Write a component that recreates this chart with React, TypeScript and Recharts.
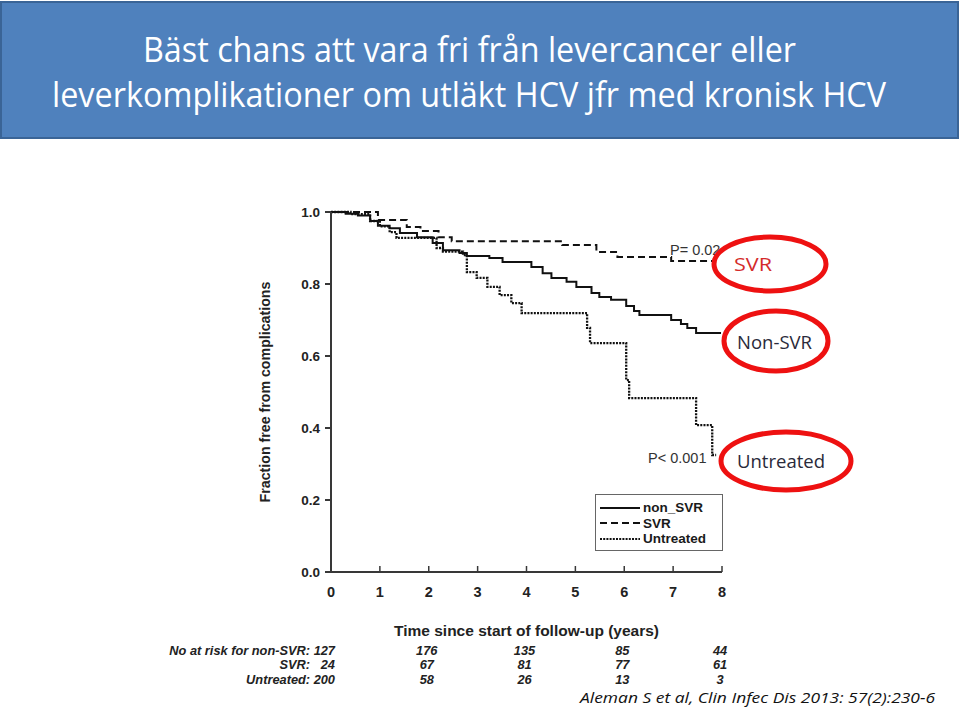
import React from 'react'
import { LineChart, Line, XAxis, YAxis } from 'recharts'

// Kaplan-Meier steps (years, fraction free)
const nonSvrTime = [0, 0.3, 0.55, 0.8, 0.96, 1.2, 1.41, 1.76, 2.08, 2.29, 2.63, 2.78, 3.24, 3.51, 4.1, 4.33, 4.51, 4.82, 5.02, 5.33, 5.49, 5.73, 6.04, 6.2, 6.31, 6.96, 7.16, 7.29, 7.47, 7.98]
const nonSvrFree = [1.0, 0.995, 0.99, 0.975, 0.962, 0.955, 0.942, 0.93, 0.914, 0.894, 0.886, 0.878, 0.872, 0.861, 0.847, 0.83, 0.817, 0.806, 0.792, 0.775, 0.764, 0.756, 0.739, 0.725, 0.714, 0.7, 0.689, 0.678, 0.664, 0.664]

const svrTime = [0, 0.96, 1.55, 1.83, 2.2, 2.47, 4.73, 5.43, 5.86, 6.96, 7.9]
const svrFree = [1.0, 0.978, 0.958, 0.947, 0.93, 0.919, 0.908, 0.889, 0.875, 0.864, 0.864]

const untreatedTime = [0, 0.4, 0.8, 1.0, 1.2, 1.34, 2.16, 2.29, 2.7, 2.78, 2.98, 3.2, 3.45, 3.69, 3.9, 5.24, 5.3, 6.04, 6.1, 7.47, 7.8, 7.88]
const untreatedFree = [1.0, 0.994, 0.975, 0.96, 0.944, 0.928, 0.9, 0.89, 0.88, 0.833, 0.817, 0.792, 0.769, 0.747, 0.719, 0.678, 0.636, 0.533, 0.483, 0.408, 0.325, 0.325]

const xTicks = [0, 1, 2, 3, 4, 5, 6, 7, 8]
const yTicks = [0, 0.2, 0.4, 0.6, 0.8, 1.0]

// numbers at risk
const riskYears = [2, 4, 6, 8]
const riskLabels = ['No at risk for non-SVR: 127', 'SVR:   24', 'Untreated: 200']
const riskNonSvr = [176, 135, 85, 44]
const riskSvr = [67, 81, 77, 61]
const riskUntreated = [58, 26, 13, 3]

const toRows = (t: number[], f: number[]) => t.map((v, i) => ({ t: v, f: f[i] }))

const series = [
  { name: 'non_SVR', data: toRows(nonSvrTime, nonSvrFree), dash: undefined as string | undefined, w: 2 },
  { name: 'SVR', data: toRows(svrTime, svrFree), dash: '7 4', w: 2 },
  { name: 'Untreated', data: toRows(untreatedTime, untreatedFree), dash: '2 1.2', w: 2.3 },
]

const W = 960
const H = 707
const M = { top: 212, right: 238, bottom: 71, left: 199 }
const Y_AXIS_W = 132
const X_AXIS_H = 64
const plotLeft = M.left + Y_AXIS_W
const plotW = W - M.right - plotLeft
const xPx = (t: number) => plotLeft + (t / 8) * plotW

const AXIS = '#383838'
const FONT = '"Liberation Sans", Arial, sans-serif'
const SLIDE_FONT = '"Open Sans", "Noto Sans", sans-serif'

function XTick(p: any) {
  return (
    <g>
      <line x1={p.x} x2={p.x} y1={p.y} y2={p.y - 6} stroke={AXIS} strokeWidth={1.5} />
      <text x={p.x} y={p.y + 25} textAnchor="middle" fontSize={14.5} fontWeight="bold" fill="#222" fontFamily={FONT}>
        {p.payload.value}
      </text>
    </g>
  )
}

function LegendBox() {
  return (
    <div style={{ position: 'absolute', left: 595, top: 494, border: '1.5px solid #666', width: 128, height: 57, background: '#fff', boxSizing: 'border-box', padding: '5px 0 0 4px' }}>
      {series.map(s => (
        <div key={s.name} style={{ display: 'flex', alignItems: 'center', height: 15.5 }}>
          <svg width={40} height={6}>
            <line x1={0} x2={40} y1={3} y2={3} stroke="#111" strokeWidth={2} strokeDasharray={s.dash} />
          </svg>
          <span style={{ fontFamily: FONT, fontWeight: 'bold', fontSize: 13.5, color: '#1a1a1a', marginLeft: 3 }}>{s.name}</span>
        </div>
      ))}
    </div>
  )
}

export default function App() {
  const riskRows = [riskNonSvr, riskSvr, riskUntreated]
  return (
    <div style={{ position: 'absolute', left: 0, top: 0, width: W, height: H, background: '#fff', overflow: 'hidden' }}>
      <LineChart width={W} height={H} margin={M} style={{ position: 'absolute', left: 0, top: 0 }}>
        <XAxis
          type="number"
          dataKey="t"
          domain={[0, 8]}
          ticks={xTicks}
          height={X_AXIS_H}
          stroke={AXIS}
          strokeWidth={2}
          tickLine={false}
          tickSize={0}
          tickMargin={0}
          tick={<XTick />}
          label={{ value: 'Time since start of follow-up (years)', position: 'insideBottom', offset: 0, fontSize: 15.5, fontWeight: 'bold', fill: '#222', fontFamily: FONT }}
        />
        <YAxis
          type="number"
          domain={[0, 1]}
          ticks={yTicks}
          width={Y_AXIS_W}
          stroke={AXIS}
          strokeWidth={2}
          tickSize={6}
          tickMargin={5}
          tickFormatter={(v: number) => v.toFixed(1)}
          tick={{ fontSize: 13.5, fontWeight: 'bold', fill: '#222', fontFamily: FONT }}
          label={{ value: 'Fraction free from complications', angle: -90, position: 'center', fontSize: 14.2, fontWeight: 'bold', fill: '#222', fontFamily: FONT }}
        />
        {series.map(s => (
          <Line
            key={s.name}
            name={s.name}
            data={s.data}
            dataKey="f"
            type="stepAfter"
            stroke="#111"
            strokeWidth={s.w}
            strokeDasharray={s.dash}
            dot={false}
            isAnimationActive={false}
          />
        ))}
      </LineChart>

      <LegendBox />

      <svg width={W} height={H} style={{ position: 'absolute', left: 0, top: 0, pointerEvents: 'none' }}>
        {/* title banner */}
        <rect x={1} y={2} width={957} height={136} fill="#4F81BD" stroke="#3A6496" strokeWidth={2} />
        <text x={143} y={62} fontFamily={SLIDE_FONT} fontSize={35} fill="#fff" textLength={653} lengthAdjust="spacingAndGlyphs">
          Bäst chans att vara fri från levercancer eller
        </text>
        <text x={52} y={107} fontFamily={SLIDE_FONT} fontSize={35} fill="#fff" textLength={834} lengthAdjust="spacingAndGlyphs">
          leverkomplikationer om utläkt HCV jfr med kronisk HCV
        </text>

        {/* p-values */}
        <text x={670} y={255} fontFamily={FONT} fontSize={14.5} fill="#333">P= 0.02</text>
        <text x={648} y={463} fontFamily={FONT} fontSize={14.5} fill="#333">P&lt; 0.001</text>

        {/* red call-outs */}
        <ellipse cx={770} cy={264} rx={56} ry={27} fill="#fff" stroke="#EE1111" strokeWidth={5} />
        <text x={734} y={271} fontFamily={SLIDE_FONT} fontSize={19} fill="#D42A2A" textLength={38} lengthAdjust="spacingAndGlyphs">SVR</text>
        <ellipse cx={776} cy={341} rx={52} ry={30} fill="#fff" stroke="#EE1111" strokeWidth={5} />
        <text x={737} y={349} fontFamily={SLIDE_FONT} fontSize={18} fill="#2a2a3a" textLength={75} lengthAdjust="spacingAndGlyphs">Non-SVR</text>
        <ellipse cx={786} cy={461} rx={65} ry={29} fill="#fff" stroke="#EE1111" strokeWidth={5} />
        <text x={737} y={468} fontFamily={SLIDE_FONT} fontSize={18} fill="#2a2a3a" textLength={88} lengthAdjust="spacingAndGlyphs">Untreated</text>

        {/* numbers at risk */}
        {riskLabels.map((lab, r) => (
          <g key={lab} fontFamily={FONT} fontSize={12.8} fontWeight="bold" fontStyle="italic" fill="#222">
            <text x={335} y={655 + r * 14.25} textAnchor="end" style={{ whiteSpace: 'pre' }}>{lab}</text>
            {riskRows[r].map((n, i) => (
              <text key={i} x={xPx(riskYears[i]) - 2} y={655 + r * 14.25} textAnchor="middle">{n}</text>
            ))}
          </g>
        ))}

        {/* citation */}
        <text x={580} y={702.5} fontFamily={SLIDE_FONT} fontSize={15} fontStyle="italic" fill="#111" textLength={355} lengthAdjust="spacingAndGlyphs">
          Aleman S et al, Clin Infec Dis 2013: 57(2):230-6
        </text>
      </svg>
    </div>
  )
}
